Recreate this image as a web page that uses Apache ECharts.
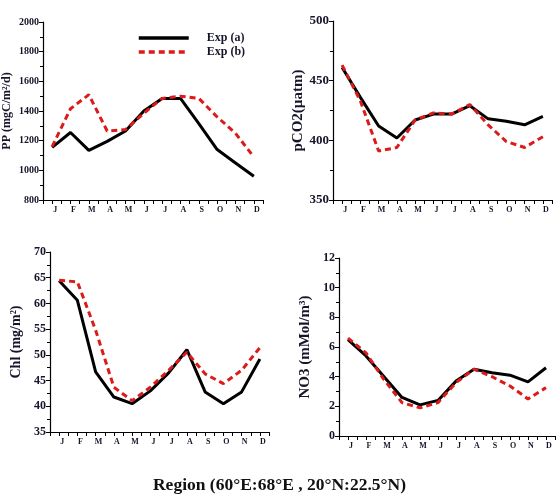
<!DOCTYPE html>
<html>
<head>
<meta charset="utf-8">
<script src="https://cdn.jsdelivr.net/npm/echarts@6/dist/echarts.min.js"></script>
<style>html,body{margin:0;padding:0;background:#fff}#c{width:559px;height:496px}</style>
</head>
<body>
<div id="c"></div>
<script>
const months = ['J','F','M','A','M','J','J','A','S','O','N','D'];
const ppA = [1155, 1255, 1135, 1195, 1265, 1400, 1485, 1485, 1315, 1140, 1050, 960];
const ppB = [1160, 1415, 1510, 1265, 1275, 1385, 1485, 1500, 1485, 1360, 1250, 1090];
const co2A = [461, 436, 412, 402, 417, 422, 422, 429, 418, 416, 413, 420];
const co2B = [463, 433, 391, 394, 417, 423, 422, 430, 413, 399, 394, 403];
const chlA = [64.4, 60.6, 46.7, 41.8, 40.5, 43.0, 46.5, 51.0, 42.8, 40.5, 42.8, 49.2];
const chlB = [64.5, 64.2, 54.8, 43.7, 41.1, 43.7, 47.0, 50.5, 46.3, 44.4, 47.0, 51.4];
const no3A = [6.5, 5.4, 4.0, 2.6, 2.1, 2.4, 3.7, 4.5, 4.26, 4.1, 3.65, 4.6];
const no3B = [6.6, 5.6, 3.8, 2.25, 1.9, 2.25, 3.6, 4.5, 4.0, 3.37, 2.5, 3.26];
const seriesNames = ['Exp (a)', 'Exp (b)'];
const panelTitles = ['PP (mgC/m\u00b2/d)', 'pCO2(\u00b5atm)', 'Chl (mg/m\u00b2)', 'NO3 (mMol/m\u00b3)'];
const bottomTitle = 'Region (60\u00b0E:68\u00b0E , 20\u00b0N:22.5\u00b0N)';

const FONT = '"Liberation Serif", "Times New Roman", serif';
const TXT = '#15152a';

const panels = [
  {grid:{left:43, top:22, width:220, height:178}, min:800, max:2000, interval:200, a:ppA, b:ppB, lab:10, nameSize:12, gap:30},
  {grid:{left:333, top:21, width:219, height:179}, min:350, max:500, interval:50, a:co2A, b:co2B, lab:13, nameSize:15, gap:27},
  {grid:{left:50, top:252, width:219, height:180}, min:35, max:70, interval:5, a:chlA, b:chlB, lab:12, nameSize:14, gap:27},
  {grid:{left:339, top:258, width:216, height:178}, min:0, max:12, interval:2, a:no3A, b:no3B, lab:12, nameSize:15, gap:26}
];

const grid = [], xAxis = [], yAxis = [], series = [];
panels.forEach((p, i) => {
  grid.push(p.grid);
  xAxis.push({
    type:'category', gridIndex:i, data:months, boundaryGap:true, position:'bottom',
    axisLine:{onZero:false, lineStyle:{color:'#000', width:1.2}},
    axisTick:{show:false},
    axisLabel:{color:TXT, fontFamily:FONT, fontWeight:'bold', fontSize:8, margin:6, padding:[0,0,0,6]},
    splitLine:{show:false}
  });
  xAxis.push({
    type:'value', gridIndex:i, min:0, max:24, interval:1, position:'bottom',
    axisLine:{show:true, onZero:false, lineStyle:{color:'rgba(0,0,0,0)', width:0}},
    axisLabel:{show:false}, splitLine:{show:false},
    axisTick:{show:true, inside:false, length:4, lineStyle:{color:'#000', width:1}}
  });
  yAxis.push({
    type:'value', gridIndex:i, min:p.min, max:p.max, interval:p.interval,
    name:panelTitles[i], nameLocation:'middle', nameGap:p.gap,
    nameTextStyle:{color:TXT, fontFamily:FONT, fontWeight:'bold', fontSize:p.nameSize},
    axisLine:{show:true, onZero:false, lineStyle:{color:'#000', width:1.2}},
    axisTick:{show:true, length:4, lineStyle:{color:'#000'}},
    minorTick:{show:true, splitNumber:2, length:3, lineStyle:{color:'#000'}},
    axisLabel:{color:TXT, fontFamily:FONT, fontWeight:'bold', fontSize:p.lab, margin:4,
      formatter:(v) => String(v)},
    splitLine:{show:false}
  });
  series.push({
    name:seriesNames[0], type:'line', xAxisIndex:2*i, yAxisIndex:i, data:p.a,
    symbol:'none', lineStyle:{color:'#000', width:3}, itemStyle:{color:'#000'}, z:2
  });
  series.push({
    name:seriesNames[1], type:'line', xAxisIndex:2*i, yAxisIndex:i, data:p.b,
    symbol:'none', lineStyle:{color:'#dd1a1a', width:3, type:[6,4]}, itemStyle:{color:'#dd1a1a'}, z:3
  });
});

const chart = echarts.init(document.getElementById('c'), null, {renderer:'canvas'});
chart.setOption({
  animation:false,
  backgroundColor:'#fff',
  title:{text:bottomTitle, left:'center', top:471,
    textStyle:{fontFamily:FONT, fontWeight:'bold', fontSize:17.5, color:'#111'}},
  legend:{
    data:seriesNames, orient:'vertical', left:132, top:27, itemGap:2,
    itemWidth:50, itemHeight:12,
    itemStyle:{opacity:0},
    lineStyle:{width:3.5},
    textStyle:{fontFamily:FONT, fontWeight:'bold', fontSize:12, color:TXT, padding:[0,0,0,13]}
  },
  grid, xAxis, yAxis, series
});
</script>
</body>
</html>
